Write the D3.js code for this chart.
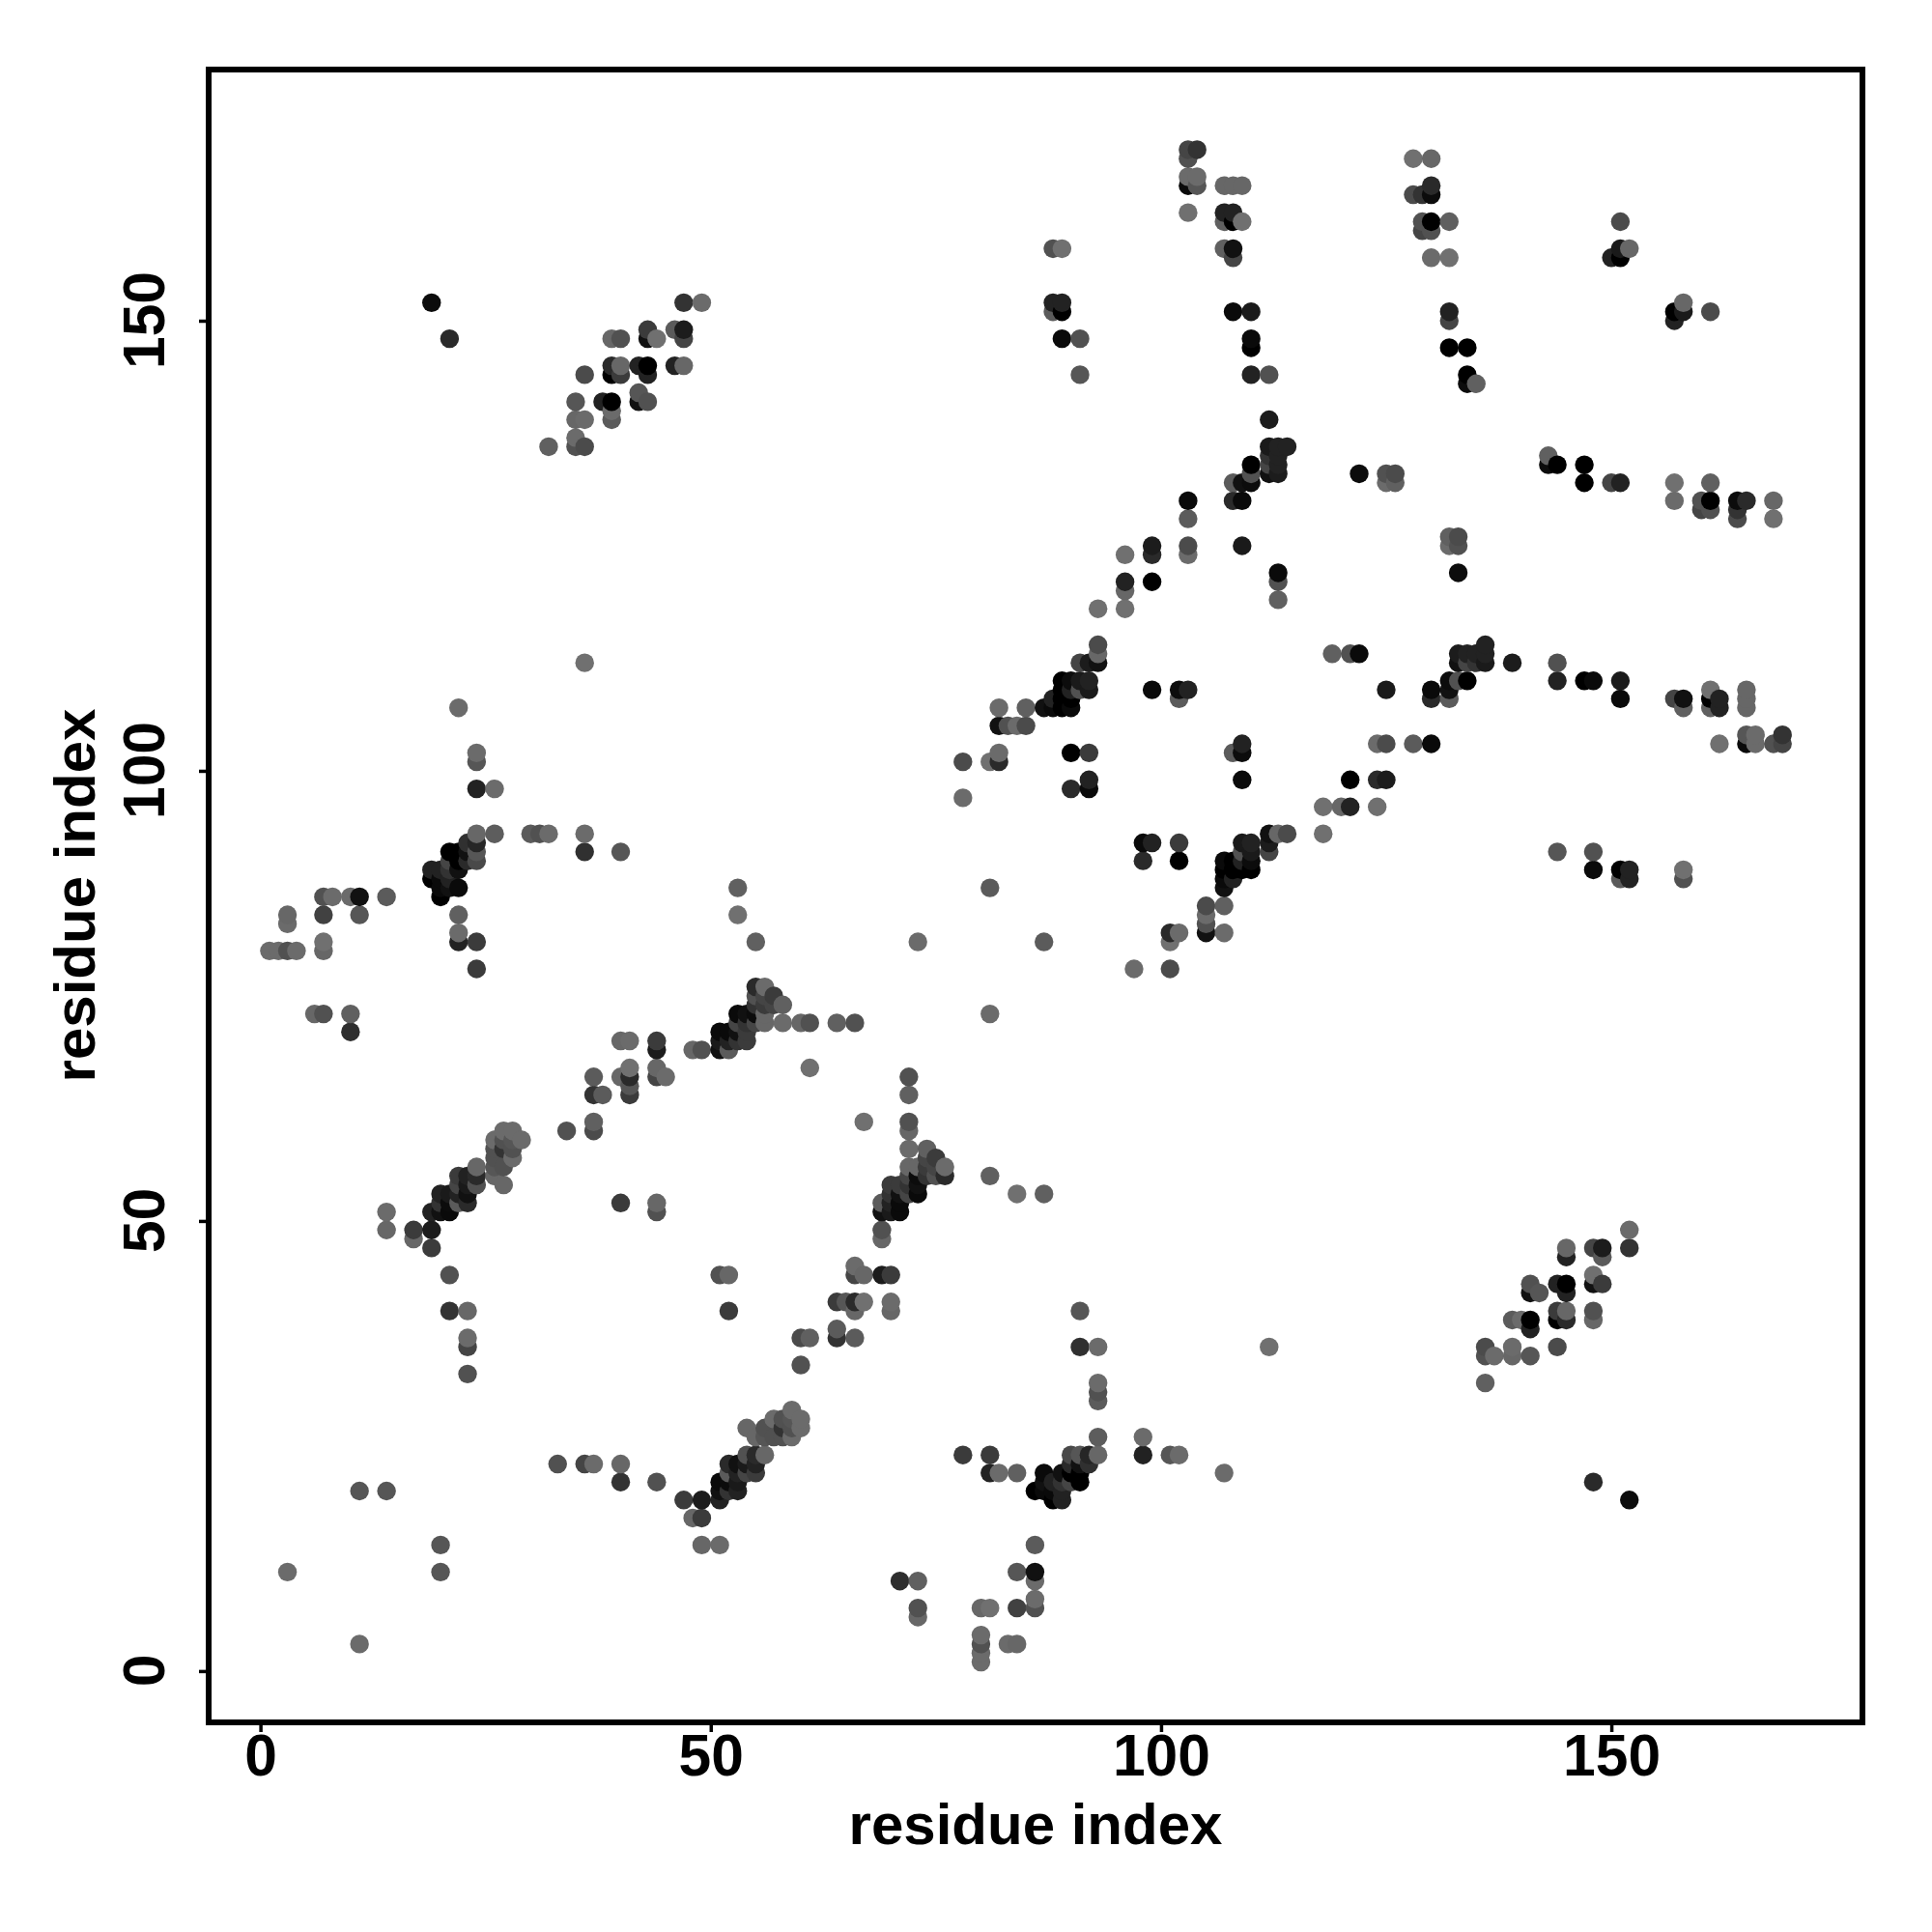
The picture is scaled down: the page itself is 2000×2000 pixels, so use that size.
<!DOCTYPE html>
<html>
<head>
<meta charset="utf-8">
<script src="https://cdn.jsdelivr.net/npm/d3@7/dist/d3.min.js"></script>
<style>html,body{margin:0;padding:0;background:#fff}svg{display:block}</style>
</head>
<body>
<svg id="chart" width="2000" height="2000"></svg>
<script>
// Each row: [residue a, residue b, shade]; the contact map is symmetric, so a row marks (a,b) and (b,a).
const lowContacts = [
[3,11,106],[11,20,85],[14,20,85],[14,49,102],[14,51,106],[17,48,102],[17,49,58],[19,47,58],[19,49,28],
[21,40,51],[21,44,80],[23,33,80],[23,36,68],[23,37,106],[23,40,102],[40,52,58],[44,51,80],[44,52,102],[19,152,12],[21,148,42]
];
const helixA = [
[19,51,34],[20,51,17],[21,51,10],[20,52,51],[21,52,12],[22,52,90],[23,52,42],[20,53,34],[21,53,26],[22,53,34],[23,53,17],
[22,54,68],[23,54,26],[24,54,80],[27,54,102],[22,55,58],[23,55,34],[24,55,42],[26,55,102],[24,56,102],[26,56,85],[27,56,80],
[26,57,80],[28,57,106],[26,58,80],[27,58,51],[28,58,80],[26,59,106],[27,59,80],[28,59,85],[29,59,106],[27,60,106],[28,60,106]
];
const linkAB = [
[34,60,80],[37,60,74],[37,61,95],[37,64,51],[38,64,90],[41,64,58],[41,65,85],[37,66,90],[40,66,102],[41,66,42],[44,66,68],[45,66,106],
[41,67,111],[44,67,102],[44,69,28],[48,69,102],[49,69,80],[40,70,102],[41,70,106],[44,70,58],[61,67,111],[55,81,95],[53,84,111],[53,87,95],
[81,87,90],[73,81,106]
];
const helixB = [
[51,69,17],[52,69,90],[51,70,26],[52,70,34],[53,70,51],[54,70,58],[51,71,10],[52,71,10],[53,71,17],[54,71,58],
[53,72,68],[54,72,51],[55,72,68],[56,72,102],[58,72,106],[60,72,102],[61,72,80],[64,72,95],[66,72,80],
[53,73,10],[54,73,17],[55,73,12],[56,73,102],[55,74,51],[56,74,58],[57,74,68],[58,74,95],[55,75,80],[56,75,68],[57,75,58],[55,76,42],[56,76,106]
];
const helixC = [
[20,86,0],[20,87,10],[21,87,17],[22,87,10],[19,88,0],[20,88,10],[21,88,34],[19,89,34],[20,89,34],[21,89,51],[22,89,17],
[21,90,68],[22,90,0],[23,90,42],[24,90,72],[21,91,0],[22,91,0],[23,91,17],[24,91,85],[23,92,48],[24,92,38],[24,93,102]
];
const chainEnd = [
[1,80,106],[2,80,106],[3,80,80],[4,80,106],[7,80,102],[7,81,111],[3,83,106],[3,84,102],[7,84,64],[11,84,85],[7,86,80],[8,86,106],[10,86,106],[11,86,17],[14,86,90],
[6,73,102],[7,73,80],[10,71,46],[10,73,95],[24,78,58],[22,81,34],[24,81,58],[22,82,106],[22,84,95],
[22,107,106],[24,98,34],[26,98,106],[24,101,85],[24,102,106],[26,93,92],[30,93,90],[31,93,80],[32,93,106],[36,93,106],[36,91,48],[40,91,85],[36,112,111]
];
const helixD = [
[91,112,68],[92,112,28],[93,112,17],[93,113,102],[93,114,74],[89,110,0],[90,110,12],[91,110,26],[92,110,34],[89,109,0],[90,109,34],[91,109,80],[92,109,26],
[88,108,34],[89,108,0],[90,108,0],[87,107,17],[88,107,10],[89,107,0],[90,107,10],[82,107,106],[85,107,95],[82,105,17],[83,105,80],[84,105,106],[85,105,74],
[78,101,74],[81,101,111],[82,101,42],[82,102,106],[78,97,106],[90,102,0],[92,102,58],[90,98,42],[92,98,10],[92,99,34]
];
const strandE = [
[93,118,111],[96,118,111],[96,120,102],[96,121,34],[96,124,111],[99,121,0],[99,124,42],[99,125,28],[103,124,106],[103,125,74],[103,128,90],[103,130,10],[109,125,26],
[113,119,95],[113,121,80],[113,122,10],[108,130,42],[109,130,10],[108,132,90],[109,132,17],[110,132,12],[110,133,80],[110,134,0],
[112,133,17],[113,133,28],[112,134,68],[113,134,34],[112,135,51],[113,135,34],[112,136,26],[113,136,34],[114,136,34],[112,139,28],
[99,109,10],[102,108,90],[102,109,12],[103,109,34]
];
const strandF = [
[88,151,90],[89,151,0],[88,152,34],[89,152,34],[88,158,80],[89,158,111],[89,148,10],[91,148,80],[91,144,85],
[110,144,34],[112,144,80],[110,147,0],[110,148,10],[108,151,10],[110,151,26],[108,157,68],[107,158,95],[108,158,17],
[107,161,95],[108,161,0],[109,161,111],[107,162,34],[108,162,34],[107,165,102],[108,165,102],[109,165,102],
[103,162,111],[103,165,10],[104,165,85],[103,166,106],[104,166,106],[103,168,80],[103,169,68],[104,169,51]
];
const strandG = [
[125,132,106],[126,132,95],[125,133,80],[126,133,74],[122,133,12],[128,164,74],[129,164,51],[130,164,12],[130,165,42],[128,168,111],[130,168,102],
[129,160,68],[130,160,80],[129,161,80],[130,161,0],[132,161,95],[130,157,106],[132,157,111],[132,150,68],[132,151,34],[132,147,0],[134,147,0],
[134,144,0],[134,143,12],[135,143,95],[150,157,34],[151,157,0],[151,158,26],[152,158,102],[151,161,74]
];
const strandH = [
[47,152,51],[49,152,106],[43,149,58],[46,149,90],[47,149,28],[47,148,68],[43,148,17],[44,148,111],[39,148,102],[40,148,80],
[39,145,42],[40,145,102],[39,144,0],[40,144,58],[36,144,74],[42,145,34],[43,145,0],[43,144,34],[46,145,34],[47,145,102],
[35,141,85],[38,141,34],[39,141,0],[39,140,106],[39,139,90],[42,142,85],[42,141,17],[43,141,80],[35,139,102],[36,139,106],[35,137,106],[35,136,80],[36,136,74],[32,136,95]
];
const tickValues = [0, 50, 100, 150];
const axisTitle = "residue index";

const rows = [lowContacts, helixA, linkAB, helixB, helixC, chainEnd, helixD, strandE, strandF, strandG, strandH].flat();
const points = rows.flatMap(([a, b, s]) => [{x: a, y: b, s}, {x: b, y: a, s}])
  .sort((p, q) => d3.ascending(p.x, q.x) || d3.ascending(p.y, q.y));

const frame = {left: 216, right: 1928, top: 72, bottom: 1783};
const x = d3.scaleLinear().domain([-5.75, 177.88]).range([frame.left, frame.right]);
const y = d3.scaleLinear().domain([-5.7, 177.9]).range([frame.bottom, frame.top]);
const shade = d3.scaleLinear().domain([0, 111]).range(["#000000", "#707070"]);

const svg = d3.select("#chart");
const font = "'Liberation Sans', Arial, sans-serif";

svg.append("g").selectAll("circle").data(points).join("circle")
  .attr("cx", d => x(d.x)).attr("cy", d => y(d.y)).attr("r", 9.7)
  .attr("fill", d => shade(d.s));

svg.append("rect")
  .attr("x", frame.left).attr("y", frame.top)
  .attr("width", frame.right - frame.left).attr("height", frame.bottom - frame.top)
  .attr("fill", "none").attr("stroke", "#000").attr("stroke-width", 6);

const gx = svg.append("g").attr("transform", `translate(0,${frame.bottom})`)
  .call(d3.axisBottom(x).tickValues(tickValues).tickSize(10).tickPadding(14).tickFormat(d3.format("d")));
const gy = svg.append("g").attr("transform", `translate(${frame.left},0)`)
  .call(d3.axisLeft(y).tickValues(tickValues).tickSize(10).tickFormat(d3.format("d")));
for (const g of [gx, gy]) {
  g.select(".domain").remove();
  g.selectAll("line").attr("stroke", "#000").attr("stroke-width", 3.5);
  g.selectAll("text").attr("font-family", font).attr("font-weight", "bold").attr("font-size", 60.5).attr("fill", "#000");
}
gx.selectAll("text").attr("dy", null).attr("y", null)
  .attr("transform", "translate(0,55)");
gy.selectAll("text").attr("x", null).attr("dy", null)
  .attr("text-anchor", "middle")
  .attr("transform", d => "translate(-46,-1) rotate(-90)");

svg.append("text").text(axisTitle)
  .attr("x", 1072).attr("y", 1909).attr("text-anchor", "middle")
  .attr("font-family", font).attr("font-weight", "bold").attr("font-size", 60);
svg.append("text").text(axisTitle)
  .attr("transform", "translate(98,927) rotate(-90)").attr("text-anchor", "middle")
  .attr("font-family", font).attr("font-weight", "bold").attr("font-size", 60);
</script>
</body>
</html>
